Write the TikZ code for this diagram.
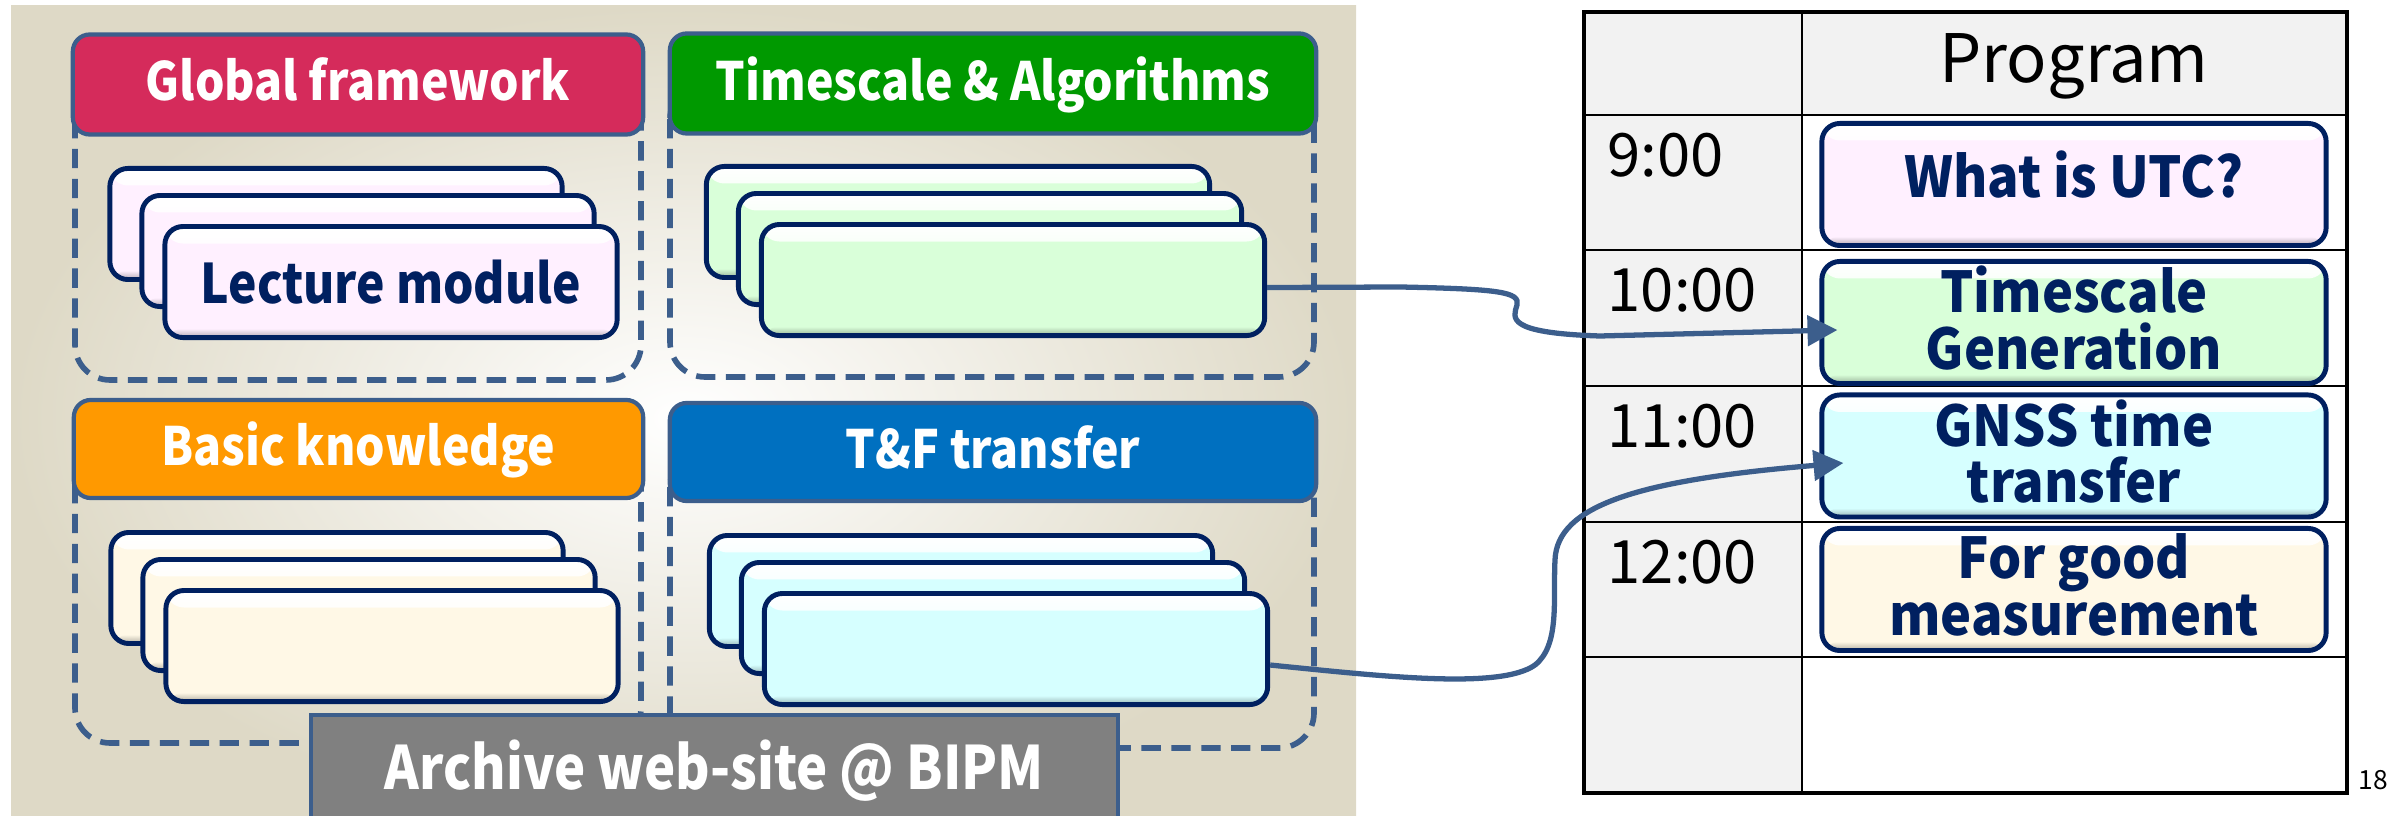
\documentclass[tikz,border=0pt]{standalone}
\usepackage{fontspec}
\setmainfont{Noto Sans CJK JP}
\newfontfamily\condfont{Noto Sans CJK JP}[FakeStretch=0.88]
\newfontfamily\progfamily{Noto Sans CJK JP}[FakeStretch=0.93]
\usetikzlibrary{arrows.meta}
\usetikzlibrary{positioning}
\usetikzlibrary{calc}

\definecolor{steel}{RGB}{60,94,140}
\definecolor{navy}{RGB}{0,32,96}
\definecolor{beige}{RGB}{222,217,198}
\definecolor{crimson}{RGB}{213,43,91}
\definecolor{leafgreen}{RGB}{0,153,0}
\definecolor{amber}{RGB}{255,153,0}
\definecolor{ocean}{RGB}{0,112,192}
\definecolor{pinkc}{RGB}{255,240,255}
\definecolor{greenc}{RGB}{217,255,217}
\definecolor{creamc}{RGB}{255,248,230}
\definecolor{cyanc}{RGB}{214,255,255}
\definecolor{cellgray}{RGB}{242,242,242}
\definecolor{archgray}{RGB}{128,128,128}

\newcommand{\progfont}{\progfamily\fontsize{16}{16}\selectfont\bfseries\lineskiplimit=-20pt\relax}

\tikzset{
  head/.style={draw=steel, line width=1.2pt, rounded corners=0.17cm, fill=#1,
    text=white, font=\condfont\fontsize{15}{18}\selectfont\bfseries,
    minimum height=1cm, text depth=0.1cm, inner sep=0pt},
  frame/.style={draw=steel, line width=1.6pt, dash pattern=on 5.5pt off 3pt,
    rounded corners=0.35cm},
  card/.style={draw=navy, line width=1.4pt, rounded corners=0.18cm, fill=#1,
    minimum height=1.11cm, inner sep=0pt, text=navy,
    font=\condfont\fontsize{15.5}{19}\selectfont\bfseries,
    path picture={
      \shade[top color=white, bottom color=#1]
        (path picture bounding box.north west) rectangle ([yshift=-0.17cm]path picture bounding box.north east);
      \shade[top color=#1, bottom color=#1!70!black]
        ([yshift=0.09cm]path picture bounding box.south west) rectangle (path picture bounding box.south east);
    }},
  prog/.style={card=#1, minimum width=5.04cm, minimum height=1.22cm, align=center,
    font=\progfont, text depth=0.1cm},
  slot/.style={anchor=base west, inner sep=0pt, font=\fontsize{17}{20}\selectfont},
  link/.style={draw=steel, line width=1.5pt, -{Triangle[length=8.5pt,width=8.5pt]}},
}

\begin{document}
\begin{tikzpicture}[x=0.01cm, y=-0.01cm, on grid]
  \clip (0,0) rectangle (2405,816);
  % panel
  \path[shading=radial, inner color=white, outer color=beige] (11,6) rectangle (1356,830);

  % dashed frames
  \draw[frame] (75,84) rectangle (641,380);
  \draw[frame] (670,84) rectangle (1314,377);
  \draw[frame] (75,449) rectangle (641,743);
  \draw[frame] (670,452) rectangle (1314,748);

  % headers
  \node[head=crimson, minimum width=5.70cm]   (gf_head) at (358,84.5) {Global framework};
  \node[head=leafgreen, minimum width=6.46cm] (ts_head) at (993,83.5) {Timescale \& Algorithms};
  \node[head=amber, minimum width=5.69cm, minimum height=0.98cm] (bk_head) at (358.5,449) {Basic knowledge};
  \node[head=ocean, minimum width=6.46cm, minimum height=0.98cm] (tf_head) at (993,452) {T\&F transfer};

  % card stacks
  \node[card=pinkc, minimum width=4.52cm] (gf_1) at (336,224) {};
  \node[card=pinkc, minimum width=4.52cm] (gf_2) [below right=0.27cm and 0.32cm of gf_1] {};
  \node[card=pinkc, minimum width=4.52cm] (gf_3) [below right=0.31cm and 0.23cm of gf_2] {Lecture module};

  \node[card=greenc, minimum width=5.03cm] (ts_1) at (958,222) {};
  \node[card=greenc, minimum width=5.03cm] (ts_2) [below right=0.27cm and 0.32cm of ts_1] {};
  \node[card=greenc, minimum width=5.03cm] (ts_3) [below right=0.31cm and 0.23cm of ts_2] {};

  \node[card=creamc, minimum width=4.52cm] (bk_1) at (337,588) {};
  \node[card=creamc, minimum width=4.52cm] (bk_2) [below right=0.27cm and 0.32cm of bk_1] {};
  \node[card=creamc, minimum width=4.52cm] (bk_3) [below right=0.31cm and 0.23cm of bk_2] {};

  \node[card=cyanc, minimum width=5.03cm] (tf_1) at (961,591) {};
  \node[card=cyanc, minimum width=5.03cm] (tf_2) [below right=0.27cm and 0.32cm of tf_1] {};
  \node[card=cyanc, minimum width=5.03cm] (tf_3) [below right=0.31cm and 0.23cm of tf_2] {};

  \node[draw=steel, line width=1.2pt, fill=archgray, text=white,
        font=\condfont\fontsize{17}{20}\selectfont\bfseries, text depth=0.1cm,
        minimum width=8.07cm, minimum height=1.1cm] (archive) at (714.5,770) {Archive web-site @ BIPM};

  % program table
  \fill[cellgray] (1584,12) rectangle (1802,793);
  \fill[cellgray] (1802,12) rectangle (2347,115);
  \draw[line width=0.7pt] (1802,12) -- (1802,793);
  \foreach \y in {115,250,386,522,657}
    \draw[line width=0.7pt] (1584,\y) -- (2347,\y);
  \draw[line width=1pt] (1584,12) rectangle (2347,793);

  \node[anchor=base, inner sep=0pt, font=\fontsize{19}{23}\selectfont] (prog_title) at (2074,83) {Program};
  \node[slot] (t_9)  at (1607,177) {9:00};
  \node[slot] (t_10) at (1607,312) {10:00};
  \node[slot] (t_11) at (1607,448) {11:00};
  \node[slot] (t_12) at (1607,584) {12:00};

  \node[prog=pinkc, text depth=0.2cm] (p_1) at (2074,184.5) {What is UTC?};
  \node[prog=greenc] (p_2) at (2074,322.5) {Timescale\\Generation};
  \node[prog=cyanc]  (p_3) at (2074,456)   {GNSS time\\transfer};
  \node[prog=creamc] (p_4) at (2074,589.5) {For good\\measurement};

  \node[anchor=base west, inner sep=0pt, font=\fontsize{7.5}{9}\selectfont] (page_no) at (2358,790) {18};

  % links
  \draw[link] ([yshift=-0.075cm]ts_3.east) -- (1400,287)
    .. controls (1500,289) and (1520,292) .. (1517,305)
    .. controls (1513,318) and (1505,333) .. (1600,336)
    -- ([xshift=0.18cm,yshift=-0.075cm]p_2.west);
  \draw[link] ([yshift=-0.16cm]tf_3.east)
    .. controls (1380,676) and (1500,690) .. (1535,665)
    .. controls (1560,645) and (1553,600) .. (1555,560)
    .. controls (1557,505) and (1640,480) .. ([xshift=0.24cm,yshift=-0.07cm]p_3.west);
\end{tikzpicture}
\end{document}
